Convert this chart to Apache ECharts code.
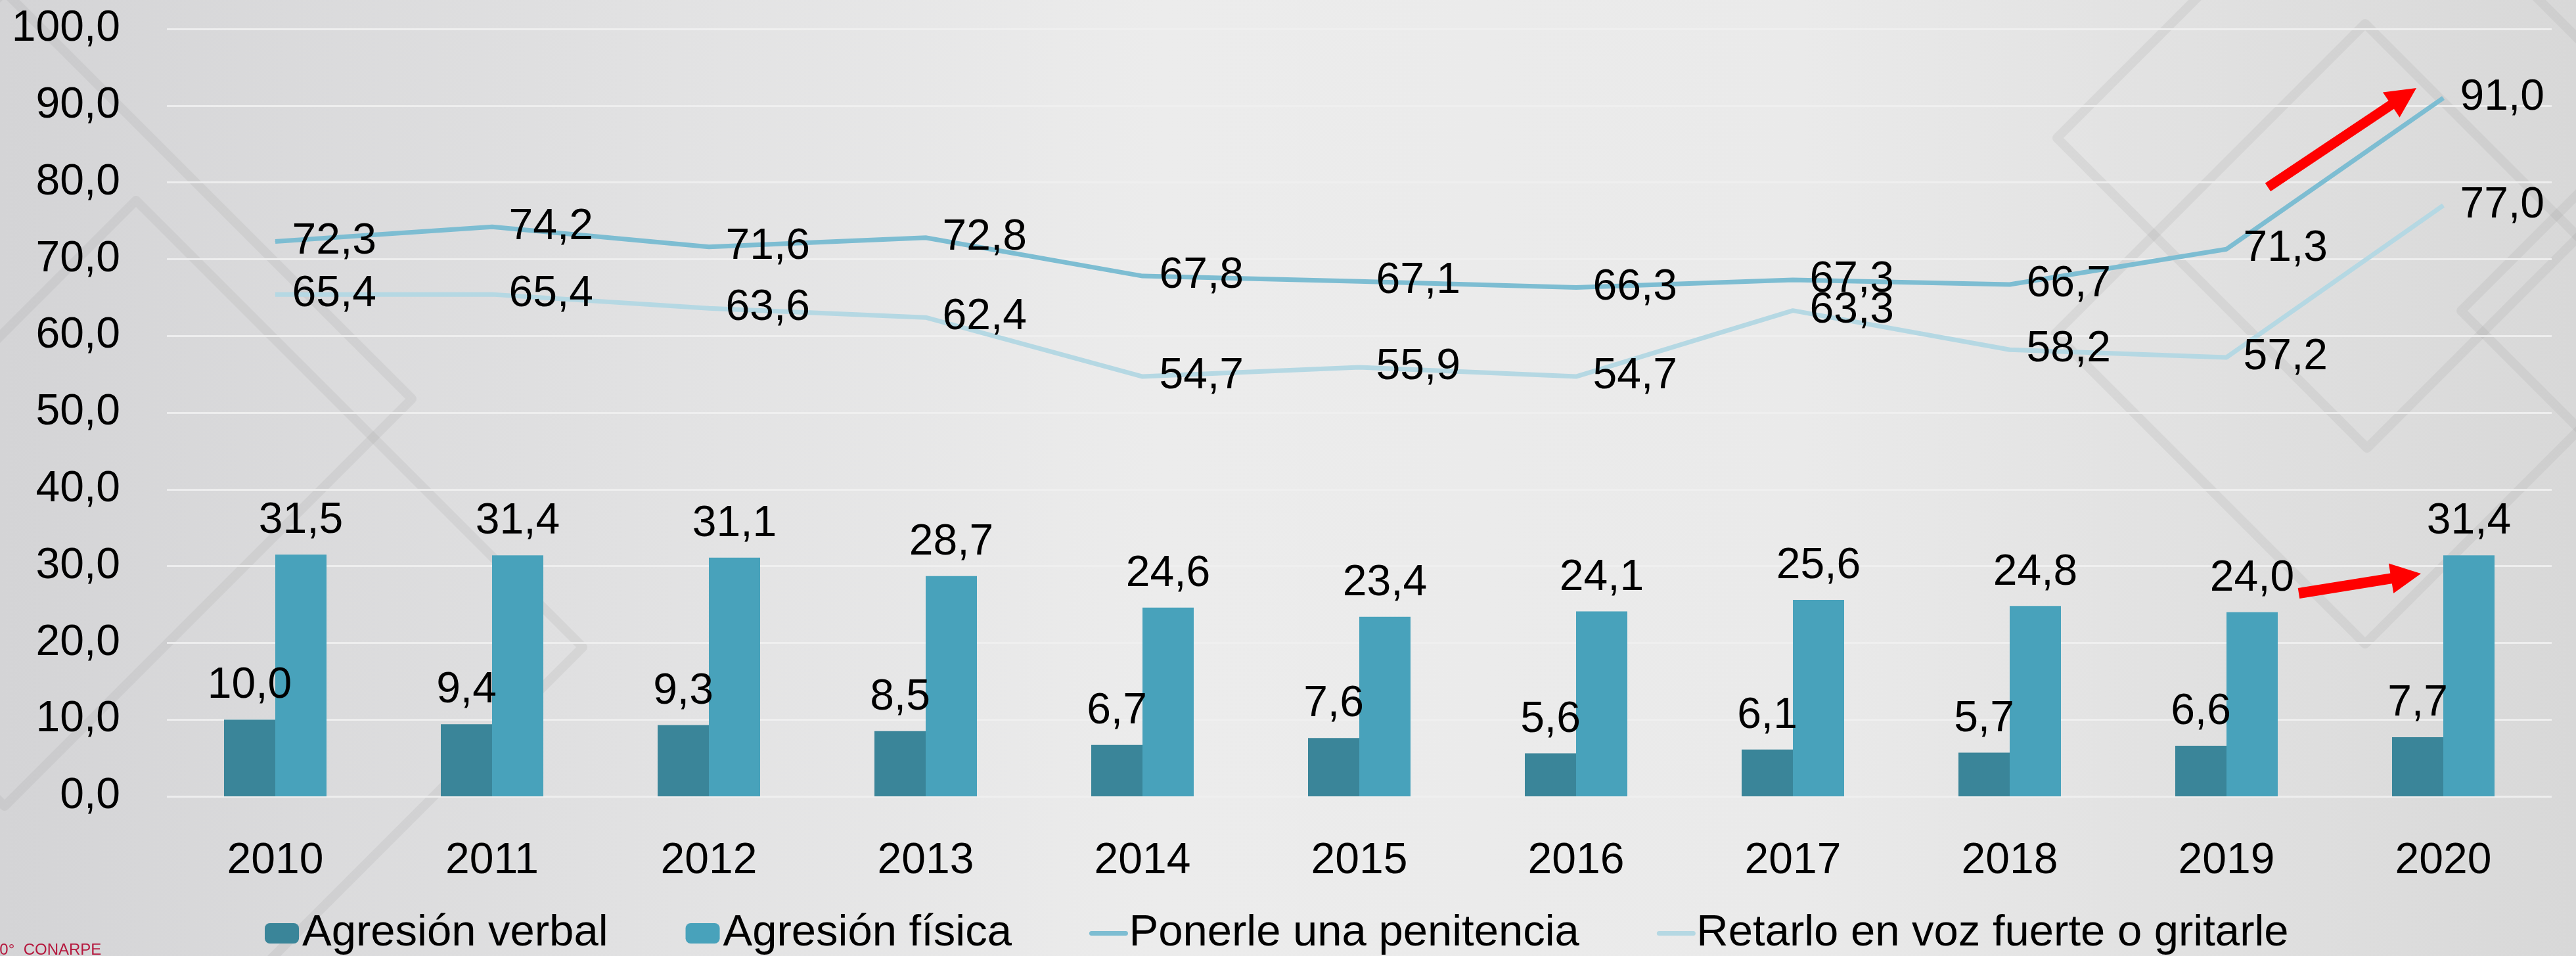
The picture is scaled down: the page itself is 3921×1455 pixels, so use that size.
<!DOCTYPE html>
<html>
<head>
<meta charset="utf-8">
<title>Agresión y castigos 2010-2020</title>
<script src="https://cdn.jsdelivr.net/npm/echarts@6/dist/echarts.min.js"></script>
<style>
  html, body { margin: 0; padding: 0; background: #e4e4e4; }
  #chart { width: 3921px; height: 1455px; }
</style>
</head>
<body>
<div id="chart"></div>
<script>
// datos
var years = ['2010', '2011', '2012', '2013', '2014', '2015', '2016', '2017', '2018', '2019', '2020'];
var agresionVerbal = [10.0, 9.4, 9.3, 8.5, 6.7, 7.6, 5.6, 6.1, 5.7, 6.6, 7.7];
var agresionFisica = [31.5, 31.4, 31.1, 28.7, 24.6, 23.4, 24.1, 25.6, 24.8, 24.0, 31.4];
var penitencia = [72.3, 74.2, 71.6, 72.8, 67.8, 67.1, 66.3, 67.3, 66.7, 71.3, 91.0];
var retarlo = [65.4, 65.4, 63.6, 62.4, 54.7, 55.9, 54.7, 63.3, 58.2, 57.2, 77.0];
var seriesNames = ['Agresión verbal', 'Agresión física', 'Ponerle una penitencia', 'Retarlo en voz fuerte o gritarle'];

var FONT = 'Liberation Sans';
var fmt = function (v) { return Number(v).toFixed(1).replace('.', ','); };

// rombos del fondo (decoracion) : centro x, centro y, semi-diagonal
var rombos = [
  [7, 607, 620],
  [207, 985, 680],
  [3600, 508, 472],
  [3603, 210, 472],
  [4218, 473, 472]
];

// flechas rojas: cola, punta, grosor
var flechas = [
  [3452, 285, 3678, 134, 15],
  [3499, 903, 3685, 873, 16]
];

function flecha(x1, y1, x2, y2, w) {
  var dx = x2 - x1, dy = y2 - y1;
  var len = Math.sqrt(dx * dx + dy * dy);
  var ux = dx / len, uy = dy / len;
  var px = -uy, py = ux;
  var headL = 46, headW = 23;
  var bx = x2 - ux * headL, by = y2 - uy * headL;
  return [
    [x1 + px * w / 2, y1 + py * w / 2],
    [bx + px * w / 2, by + py * w / 2],
    [bx + px * headW, by + py * headW],
    [x2, y2],
    [bx - px * headW, by - py * headW],
    [bx - px * w / 2, by - py * w / 2],
    [x1 - px * w / 2, y1 - py * w / 2]
  ];
}

var graphics = [
  {
    type: 'rect',
    z: -100,
    silent: true,
    shape: { x: 0, y: 0, width: 3921, height: 1455 },
    style: {
      fill: new echarts.graphic.LinearGradient(0, 0, 1, 0, [
        { offset: 0, color: '#d4d4d6' },
        { offset: 0.45, color: '#ececec' },
        { offset: 0.7, color: '#eaeaea' },
        { offset: 1, color: '#d8d8d8' }
      ])
    }
  }
];

rombos.forEach(function (r) {
  graphics.push({
    type: 'polygon',
    z: -90,
    silent: true,
    shape: { points: [[r[0], r[1] - r[2]], [r[0] + r[2], r[1]], [r[0], r[1] + r[2]], [r[0] - r[2], r[1]]] },
    style: { fill: null, stroke: 'rgba(140,140,140,0.13)', lineWidth: 14, lineJoin: 'round' }
  });
});

flechas.forEach(function (f) {
  graphics.push({
    type: 'polygon',
    z: 100,
    silent: true,
    shape: { points: flecha(f[0], f[1], f[2], f[3], f[4]) },
    style: { fill: '#ff0000' }
  });
});

// texto rojo cortado abajo a la izquierda
graphics.push({
  type: 'text',
  z: 100,
  left: -14,
  top: 1434,
  style: { text: '10°  CONARPE', fill: '#b5173d', font: '24px "' + FONT + '"' }
});

var labelBase = {
  show: true,
  color: '#000',
  fontFamily: FONT,
  fontSize: 66,
  formatter: function (p) { return fmt(p.value); }
};

// en la leyenda las lineas van sin el circulito y mas gruesas
var legendData = [
  { name: seriesNames[0] },
  { name: seriesNames[1] },
  {
    name: seriesNames[2],
    itemStyle: { color: 'rgba(0,0,0,0)', borderWidth: 0 },
    lineStyle: { width: 7, cap: 'round' }
  },
  {
    name: seriesNames[3],
    itemStyle: { color: 'rgba(0,0,0,0)', borderWidth: 0 },
    lineStyle: { width: 7, cap: 'round' }
  }
];

option = {
  backgroundColor: '#e4e4e4',
  animation: false,
  textStyle: { fontFamily: FONT },
  graphic: graphics,
  grid: {
    left: 254,
    right: 37,
    top: 44,
    bottom: 243,
    containLabel: false
  },
  legend: {
    data: legendData,
    left: 398,
    top: 1382,
    itemWidth: 52,
    itemHeight: 31,
    itemGap: 118,
    textStyle: { color: '#000', fontSize: 67, fontFamily: FONT }
  },
  xAxis: {
    type: 'category',
    data: years,
    axisLine: { show: false },
    axisTick: { show: false },
    axisLabel: { color: '#000', fontSize: 66, fontFamily: FONT, margin: 66 }
  },
  yAxis: {
    type: 'value',
    min: 0,
    max: 100,
    interval: 10,
    axisLine: { show: false },
    axisTick: { show: false },
    axisLabel: {
      color: '#000', fontSize: 66, fontFamily: FONT, margin: 71,
      formatter: function (v) { return fmt(v); }
    },
    splitLine: { show: true, lineStyle: { color: 'rgba(240,240,240,0.9)', width: 3 } }
  },
  series: [
    {
      name: seriesNames[0],
      type: 'bar',
      data: agresionVerbal,
      barWidth: 78,
      barGap: '0%',
      itemStyle: { color: '#3a8599' },
      label: Object.assign({}, labelBase, { position: 'top', distance: 18 })
    },
    {
      name: seriesNames[1],
      type: 'bar',
      data: agresionFisica,
      barWidth: 78,
      barGap: '0%',
      itemStyle: { color: '#48a2bb' },
      label: Object.assign({}, labelBase, { position: 'top', distance: 18 })
    },
    {
      name: seriesNames[2],
      type: 'line',
      data: penitencia,
      symbol: 'circle',
      symbolSize: 1,
      showSymbol: true,
      lineStyle: { color: '#7dbdd2', width: 7 },
      itemStyle: { color: '#7dbdd2' },
      label: Object.assign({}, labelBase, { position: 'right', distance: 25 }),
      z: 3
    },
    {
      name: seriesNames[3],
      type: 'line',
      data: retarlo,
      symbol: 'circle',
      symbolSize: 1,
      showSymbol: true,
      lineStyle: { color: '#b5d8e3', width: 7 },
      itemStyle: { color: '#b5d8e3' },
      label: Object.assign({}, labelBase, { position: 'right', distance: 25 }),
      z: 3
    }
  ]
};

var myChart = echarts.init(document.getElementById('chart'), null, { renderer: 'canvas' });
myChart.setOption(option);
</script>
</body>
</html>
